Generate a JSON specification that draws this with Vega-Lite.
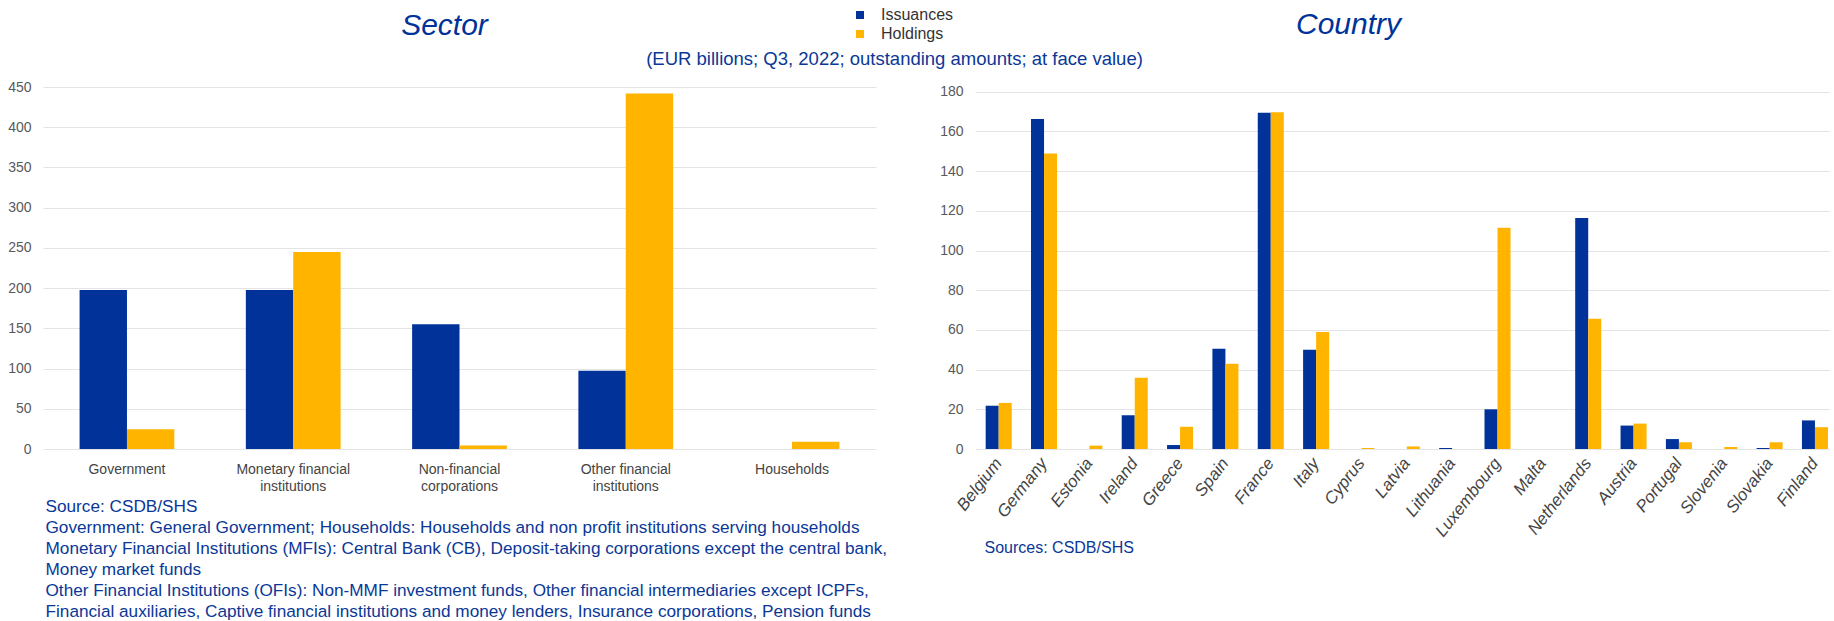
{
  "$schema": "https://vega.github.io/schema/vega-lite/v6.json",
  "background": "white",
  "padding": {"left": 7, "top": 7, "right": 0, "bottom": 0},
  "bounds": "flush",
  "spacing": 99,
  "resolve": {"scale": {"x": "independent", "y": "independent", "xOffset": "independent"}},
  "config": {
    "font": "Liberation Sans",
    "view": {"stroke": null},
    "axis": {
      "labelFont": "Liberation Sans",
      "labelColor": "#595959",
      "labelFontSize": 14,
      "domain": false,
      "ticks": false,
      "gridColor": "#e4e4e4",
      "gridWidth": 1,
      "titleFont": "Liberation Sans"
    },
    "legend": {
      "labelFont": "Liberation Sans"
    }
  },
  "datasets": {
    "sector": [
      {"sector": "Government", "type": "Issuances", "value": 197.5},
      {"sector": "Government", "type": "Holdings", "value": 24.4},
      {"sector": "Monetary financial institutions", "type": "Issuances", "value": 197.5},
      {"sector": "Monetary financial institutions", "type": "Holdings", "value": 245},
      {"sector": "Non-financial corporations", "type": "Issuances", "value": 155},
      {"sector": "Non-financial corporations", "type": "Holdings", "value": 4.5},
      {"sector": "Other financial institutions", "type": "Issuances", "value": 97.4},
      {"sector": "Other financial institutions", "type": "Holdings", "value": 442},
      {"sector": "Households", "type": "Issuances", "value": 0},
      {"sector": "Households", "type": "Holdings", "value": 9}
    ],
    "country": [
      {"country": "Belgium", "type": "Issuances", "value": 21.8},
      {"country": "Belgium", "type": "Holdings", "value": 23.2},
      {"country": "Germany", "type": "Issuances", "value": 166.2},
      {"country": "Germany", "type": "Holdings", "value": 148.9},
      {"country": "Estonia", "type": "Issuances", "value": 0},
      {"country": "Estonia", "type": "Holdings", "value": 1.7},
      {"country": "Ireland", "type": "Issuances", "value": 17},
      {"country": "Ireland", "type": "Holdings", "value": 35.9},
      {"country": "Greece", "type": "Issuances", "value": 2},
      {"country": "Greece", "type": "Holdings", "value": 11.2},
      {"country": "Spain", "type": "Issuances", "value": 50.5},
      {"country": "Spain", "type": "Holdings", "value": 43},
      {"country": "France", "type": "Issuances", "value": 169.4},
      {"country": "France", "type": "Holdings", "value": 169.6},
      {"country": "Italy", "type": "Issuances", "value": 50},
      {"country": "Italy", "type": "Holdings", "value": 59},
      {"country": "Cyprus", "type": "Issuances", "value": 0},
      {"country": "Cyprus", "type": "Holdings", "value": 0.5},
      {"country": "Latvia", "type": "Issuances", "value": 0},
      {"country": "Latvia", "type": "Holdings", "value": 1.3},
      {"country": "Lithuania", "type": "Issuances", "value": 0.5},
      {"country": "Lithuania", "type": "Holdings", "value": 0},
      {"country": "Luxembourg", "type": "Issuances", "value": 20},
      {"country": "Luxembourg", "type": "Holdings", "value": 111.5},
      {"country": "Malta", "type": "Issuances", "value": 0},
      {"country": "Malta", "type": "Holdings", "value": 0},
      {"country": "Netherlands", "type": "Issuances", "value": 116.4},
      {"country": "Netherlands", "type": "Holdings", "value": 65.6},
      {"country": "Austria", "type": "Issuances", "value": 11.8},
      {"country": "Austria", "type": "Holdings", "value": 12.8},
      {"country": "Portugal", "type": "Issuances", "value": 5},
      {"country": "Portugal", "type": "Holdings", "value": 3.4},
      {"country": "Slovenia", "type": "Issuances", "value": 0},
      {"country": "Slovenia", "type": "Holdings", "value": 1},
      {"country": "Slovakia", "type": "Issuances", "value": 0.5},
      {"country": "Slovakia", "type": "Holdings", "value": 3.4},
      {"country": "Finland", "type": "Issuances", "value": 14.4},
      {"country": "Finland", "type": "Holdings", "value": 11}
    ]
  },
  "hconcat": [
    {
      "width": 833,
      "height": 362,
      "title": {
        "text": "Sector",
        "fontSize": 30,
        "fontStyle": "italic",
        "fontWeight": "normal",
        "color": "#003299",
        "anchor": "middle",
        "frame": "group",
        "baseline": "alphabetic",
        "dx": -15,
        "offset": 15
      },
      "data": {"name": "sector"},
      "mark": {"type": "bar"},
      "encoding": {
        "x": {
          "field": "sector",
          "type": "nominal",
          "sort": ["Government", "Monetary financial institutions", "Non-financial corporations", "Other financial institutions", "Households"],
          "scale": {"paddingInner": 0.43, "paddingOuter": 0.22},
          "axis": {
            "labelAngle": 0,
            "labelPadding": 13,
            "labelFontSize": 14,
            "labelLineHeight": 17,
            "labelOverlap": false,
            "labelColor": "#444444",
            "labelExpr": "datum.value == 'Monetary financial institutions' ? ['Monetary financial', 'institutions'] : datum.value == 'Non-financial corporations' ? ['Non-financial', 'corporations'] : datum.value == 'Other financial institutions' ? ['Other financial', 'institutions'] : datum.value",
            "grid": false,
            "title": [
              "Source: CSDB/SHS",
              "Government: General Government; Households: Households and non profit institutions serving households",
              "Monetary Financial Institutions (MFIs): Central Bank (CB), Deposit-taking corporations except the central bank,",
              "Money market funds",
              "Other Financial Institutions (OFIs): Non-MMF investment funds, Other financial intermediaries except ICPFs,",
              "Financial auxiliaries, Captive financial institutions and money lenders, Insurance corporations, Pension funds"
            ],
            "titleX": 2,
            "titleY": 48,
            "titleAlign": "left",
            "titleAnchor": "start",
            "titleBaseline": "top",
            "titleFontSize": 17.2,
            "titleFontWeight": "normal",
            "titleColor": "#0a3797",
            "titleLineHeight": 21
          }
        },
        "y": {
          "field": "value",
          "type": "quantitative",
          "scale": {"domain": [0, 450], "nice": false},
          "axis": {
            "values": [0, 50, 100, 150, 200, 250, 300, 350, 400, 450],
            "title": null,
            "labelPadding": 12,
            "grid": true
          }
        },
        "xOffset": {"field": "type", "type": "nominal", "sort": ["Issuances", "Holdings"]},
        "color": {
          "field": "type",
          "type": "nominal",
          "scale": {"domain": ["Issuances", "Holdings"], "range": ["#003299", "#FFB400"]},
          "legend": {
            "orient": "none",
            "legendX": 809,
            "legendY": -80,
            "title": null,
            "symbolType": "square",
            "symbolSize": 64,
            "symbolStrokeWidth": 0,
            "labelFontSize": 16,
            "labelColor": "#333333",
            "labelOffset": 13,
            "rowPadding": 3,
            "padding": 0
          }
        }
      }
    },
    {
      "width": 855,
      "height": 362,
      "title": {
        "text": "Country",
        "fontSize": 30,
        "fontStyle": "italic",
        "fontWeight": "normal",
        "color": "#003299",
        "anchor": "middle",
        "frame": "group",
        "baseline": "alphabetic",
        "dx": -54,
        "offset": -15
      },
      "data": {"name": "country"},
      "mark": {"type": "bar"},
      "encoding": {
        "x": {
          "field": "country",
          "type": "nominal",
          "sort": null,
          "scale": {"paddingInner": 0.426, "paddingOuter": 0.14, "align": 0.84},
          "axis": {
            "labelAngle": -52,
            "labelAlign": "right",
            "labelBaseline": "middle",
            "labelPadding": 11,
            "labelFontSize": 17,
            "labelFontStyle": "italic",
            "labelOverlap": false,
            "labelColor": "#444444",
            "grid": false,
            "title": "Sources: CSDB/SHS",
            "titleX": 9,
            "titleY": 90,
            "titleAlign": "left",
            "titleAnchor": "start",
            "titleBaseline": "top",
            "titleFontSize": 16,
            "titleFontWeight": "normal",
            "titleColor": "#0a3797"
          }
        },
        "y": {
          "field": "value",
          "type": "quantitative",
          "scale": {"domain": [0, 182.37], "nice": false},
          "axis": {
            "values": [0, 20, 40, 60, 80, 100, 120, 140, 160, 180],
            "labelPadding": 12,
            "grid": true,
            "title": "(EUR billions; Q3, 2022; outstanding amounts; at face value)",
            "titleAngle": 0,
            "titleX": -81,
            "titleY": -38,
            "titleAlign": "center",
            "titleBaseline": "top",
            "titleFontSize": 18.5,
            "titleFontWeight": "normal",
            "titleColor": "#0a3797"
          }
        },
        "xOffset": {"field": "type", "type": "nominal", "sort": ["Issuances", "Holdings"]},
        "color": {
          "field": "type",
          "type": "nominal",
          "scale": {"domain": ["Issuances", "Holdings"], "range": ["#003299", "#FFB400"]}
        }
      }
    }
  ]
}
